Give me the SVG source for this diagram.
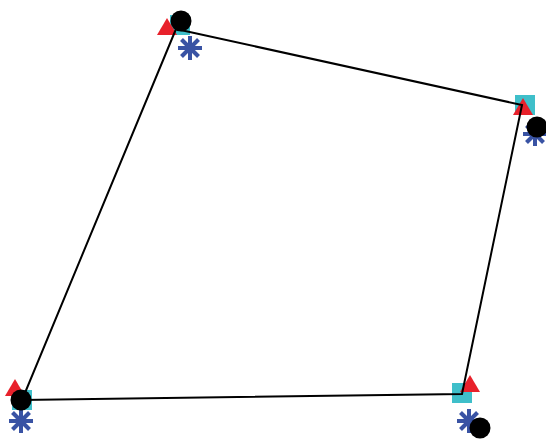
<svg xmlns="http://www.w3.org/2000/svg" width="546" height="441" viewBox="0 0 546 441">
<defs>
<style>
.sq{fill:#3fbfca}
.tri{fill:#e8212b}
.dot{fill:#000}
.ast{stroke:#3953a4;stroke-width:4;fill:none}
.edge{stroke:#000;stroke-width:2;fill:none}
</style>
<rect id="sqm" class="sq" x="-10" y="-10" width="20" height="20"/>
<polygon id="trm" class="tri" points="0,-10 10,7 -10,7"/>
<circle id="dtm" class="dot" r="10.5"/>
<g id="asm" class="ast">
<line x1="0" y1="-12" x2="0" y2="12"/>
<line x1="-12" y1="0" x2="12" y2="0"/>
<line x1="-8.5" y1="-8.5" x2="8.5" y2="8.5"/>
<line x1="-8.5" y1="8.5" x2="8.5" y2="-8.5"/>
</g>
</defs>
<rect width="546" height="441" fill="#fff"/>
<g id="n1">
<use href="#sqm" x="180" y="25"/>
<use href="#trm" x="167" y="28"/>
<use href="#asm" x="190" y="48"/>
<use href="#dtm" x="181" y="21"/>
</g>
<g id="n2">
<use href="#sqm" x="525" y="105"/>
<use href="#trm" x="523" y="108"/>
<use href="#asm" x="535" y="134"/>
<use href="#dtm" x="537" y="127"/>
</g>
<g id="n3">
<use href="#sqm" x="22" y="400"/>
<use href="#trm" x="15" y="389"/>
<use href="#asm" x="21" y="421"/>
<use href="#dtm" x="21" y="400"/>
</g>
<g id="n4">
<use href="#sqm" x="462" y="393"/>
<use href="#trm" x="470" y="385"/>
<use href="#asm" x="469" y="421"/>
<use href="#dtm" x="480" y="428"/>
</g>
<g id="connectors">
<polygon class="edge" points="176,29 522,105 462,394 22,400"/>
</g>
</svg>
